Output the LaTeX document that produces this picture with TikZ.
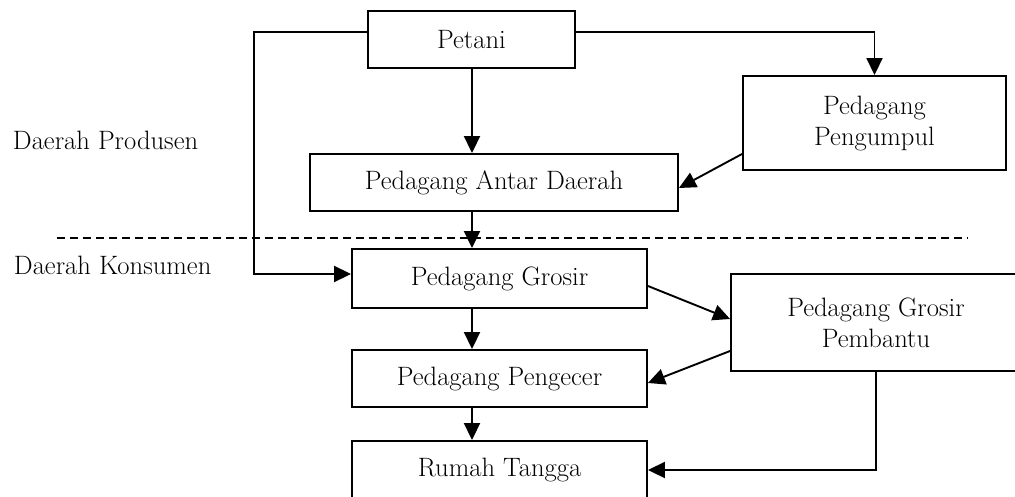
\documentclass[tikz,border=0pt]{standalone}
\usepackage{tikz}
\usetikzlibrary{arrows.meta}

\begin{document}
\begin{tikzpicture}[x=1pt, y=-1pt, line width=1.9pt,
    box/.style={draw, rectangle, inner sep=0pt, align=center,
      font=\fontsize{26.6}{31}\selectfont},
    arr/.style={-{Triangle[length=17pt,width=16pt]}},
    zone/.style={anchor=west, inner sep=0pt, font=\fontsize{26.6}{31}\selectfont}]
  \clip (0,0) rectangle (1015,497);
  % region labels and boundary
  \node[zone] (prod) at (12,140) {Daerah Produsen};
  \node[zone] (kons) at (13,265) {Daerah Konsumen};
  \coordinate (dl) at (57,238);
  \coordinate (dr) at (968,238);
  \draw[line width=1.4pt, dash pattern=on 8pt off 5pt] (dl) -- (dr);
  % marketing channel boxes
  \node[box, minimum width=207pt, minimum height=57pt] (petani)    at (471.5,39.5) {Petani};
  \node[box, minimum width=263pt, minimum height=94pt] (pengumpul) at (874.5,123)  {Pedagang\\Pengumpul};
  \node[box, minimum width=368pt, minimum height=57pt] (antar)     at (494,182.5)  {Pedagang Antar Daerah};
  \node[box, minimum width=295pt, minimum height=59pt] (grosir)    at (499.5,278.5){Pedagang Grosir};
  \node[box, minimum width=290pt, minimum height=97pt] (pembantu)  at (876,322.5)  {Pedagang Grosir\\Pembantu};
  \node[box, minimum width=295pt, minimum height=57pt] (pengecer)  at (499.5,378.5){Pedagang Pengecer};
  \node[box, minimum width=295pt, minimum height=58pt] (rumah)     at (499.5,470)  {Rumah Tangga};
  % flows
  \coordinate (mid) at (472,0);
  \coordinate (lbus) at (254,150);
  \draw[arr] ([yshift=7.5pt]petani.west) -| (lbus) |- ([yshift=4.5pt]grosir.west);
  \draw[arr] ([yshift=7.5pt]petani.east) -| (pengumpul.north);
  \draw[arr] (mid |- petani.south) -- (mid |- antar.north);
  \draw[arr] ([yshift=-31pt]pengumpul.west) -- ([yshift=-5.5pt]antar.east);
  \draw[arr] (mid |- antar.south) -- (mid |- grosir.north);
  \draw[arr] ([yshift=-7.5pt]grosir.east) -- ([yshift=3.5pt]pembantu.west);
  \draw[arr] ([yshift=-28.5pt]pembantu.west) -- ([yshift=-4.5pt]pengecer.east);
  \draw[arr] (mid |- grosir.south) -- (mid |- pengecer.north);
  \draw[arr] (mid |- pengecer.south) -- (mid |- rumah.north);
  \draw[arr] (pembantu.south) |- (rumah.east);
\end{tikzpicture}
\end{document}
